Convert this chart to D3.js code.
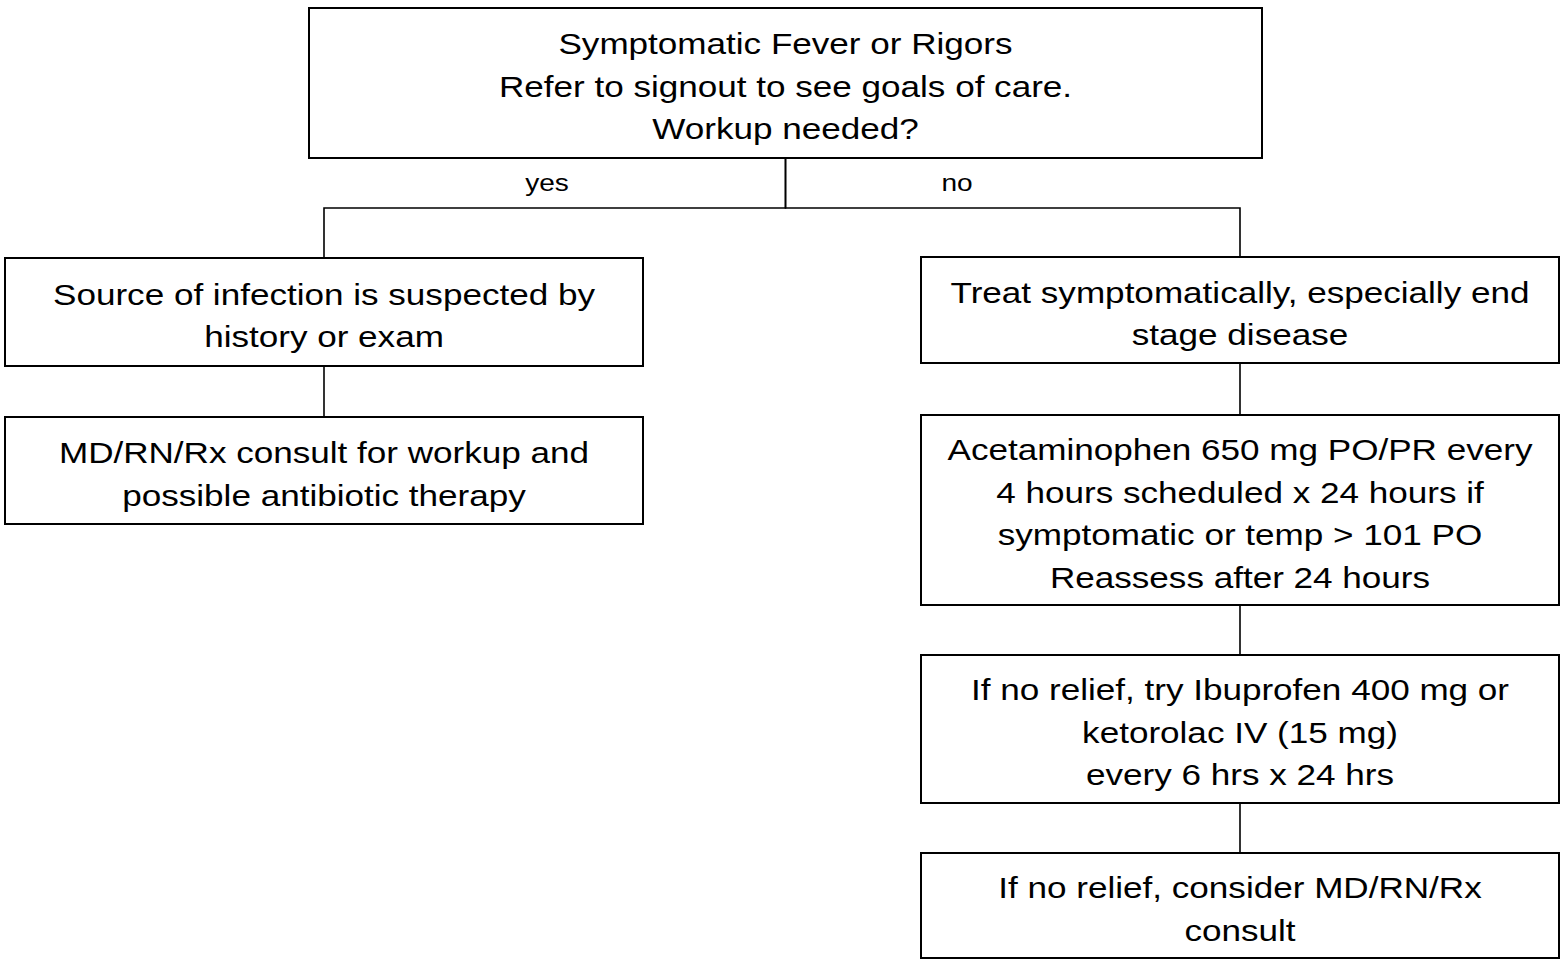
<!DOCTYPE html>
<html>
<head>
<meta charset="utf-8">
<script src="https://cdn.jsdelivr.net/npm/d3@7"></script>
<style>
  body { margin: 0; background: #fff; }
  svg { display: block; }
  .box { fill: #fff; stroke: #000; stroke-width: 2; }
  .link { fill: none; stroke: #000; stroke-width: 1.6; }
  text { font-family: "Liberation Sans", Arial, sans-serif; fill: #000; }
</style>
</head>
<body>
<div id="chart"></div>
<script>
// flowchart content
var nodeIds = ['root', 'infect', 'consultA', 'treat', 'acet', 'ibu', 'consultB'];
var nodeLines = [
  ['Symptomatic Fever or Rigors', 'Refer to signout to see goals of care.', 'Workup needed?'],
  ['Source of infection is suspected by', 'history or exam'],
  ['MD/RN/Rx consult for workup and', 'possible antibiotic therapy'],
  ['Treat symptomatically, especially end', 'stage disease'],
  ['Acetaminophen 650 mg PO/PR every', '4 hours scheduled x 24 hours if', 'symptomatic or temp > 101 PO', 'Reassess after 24 hours'],
  ['If no relief, try Ibuprofen 400 mg or', 'ketorolac IV (15 mg)', 'every 6 hrs x 24 hrs'],
  ['If no relief, consider MD/RN/Rx', 'consult']
];
var nodeColumns = ['center', 'left', 'left', 'right', 'right', 'right', 'right'];
var edgeFrom = ['root', 'root', 'infect', 'treat', 'acet', 'ibu'];
var edgeTo = ['infect', 'treat', 'consultA', 'acet', 'ibu', 'consultB'];
var branchLabels = ['yes', 'no'];

// layout
var width = 1564, height = 965;
var fontSize = 30, lineGap = 42.5, stretch = 1.17;
var colX = d3.scaleOrdinal().domain(['center', 'left', 'right']).range([309, 5, 921]);
var colW = d3.scaleOrdinal().domain(['center', 'left', 'right']).range([953, 638, 638]);
var rowTop = d3.scaleOrdinal().domain(nodeIds).range([8, 258, 417, 257, 415, 655, 853]);
var rowBottom = d3.scaleOrdinal().domain(nodeIds).range([158, 366, 524, 363, 605, 803, 958]);
var splitY = 208;

var nodes = nodeIds.map(function(id, i){
  var x = colX(nodeColumns[i]), w = colW(nodeColumns[i]);
  return { id: id, lines: nodeLines[i], x: x, w: w, cx: x + w / 2,
           y: rowTop(id), y2: rowBottom(id) };
});
var byId = {};
nodes.forEach(function(n){ byId[n.id] = n; });

var svg = d3.select('#chart').append('svg')
  .attr('width', width)
  .attr('height', height);

// connectors
var links = edgeFrom.map(function(f, i){ return { s: byId[f], t: byId[edgeTo[i]] }; });
var line = d3.line();
svg.selectAll('path.link')
  .data(links)
  .enter().append('path')
    .attr('class', 'link')
    .attr('d', function(d){
      if (Math.abs(d.s.cx - d.t.cx) < 1) {
        return line([[d.s.cx, d.s.y2], [d.t.cx, d.t.y]]);
      }
      return line([[d.s.cx, d.s.y2], [d.s.cx, splitY], [d.t.cx, splitY], [d.t.cx, d.t.y]]);
    });

// boxes
var g = svg.selectAll('g.node')
  .data(nodes)
  .enter().append('g')
    .attr('class', 'node');
g.append('rect')
  .attr('class', 'box')
  .attr('x', function(d){ return d.x; })
  .attr('y', function(d){ return d.y; })
  .attr('width', function(d){ return d.w; })
  .attr('height', function(d){ return d.y2 - d.y; });

g.each(function(d){
  var mid = (d.y + d.y2) / 2 + 3;
  var first = mid - (d.lines.length - 1) * lineGap / 2;
  d3.select(this).selectAll('text')
    .data(d.lines)
    .enter().append('text')
      .attr('text-anchor', 'middle')
      .attr('transform', function(t, i){
        return 'translate(' + d.cx + ',' + (first + i * lineGap + fontSize * 0.36) + ') scale(' + stretch + ',1)';
      })
      .style('font-size', fontSize + 'px')
      .text(function(t){ return t; });
});

// yes / no labels
var labelX = [547, 957];
svg.selectAll('text.branch')
  .data(branchLabels)
  .enter().append('text')
    .attr('class', 'branch')
    .attr('text-anchor', 'middle')
    .attr('transform', function(d, i){ return 'translate(' + labelX[i] + ',' + 191 + ') scale(' + stretch + ',1)'; })
    .style('font-size', '24px')
    .text(function(d){ return d; });
</script>
</body>
</html>
